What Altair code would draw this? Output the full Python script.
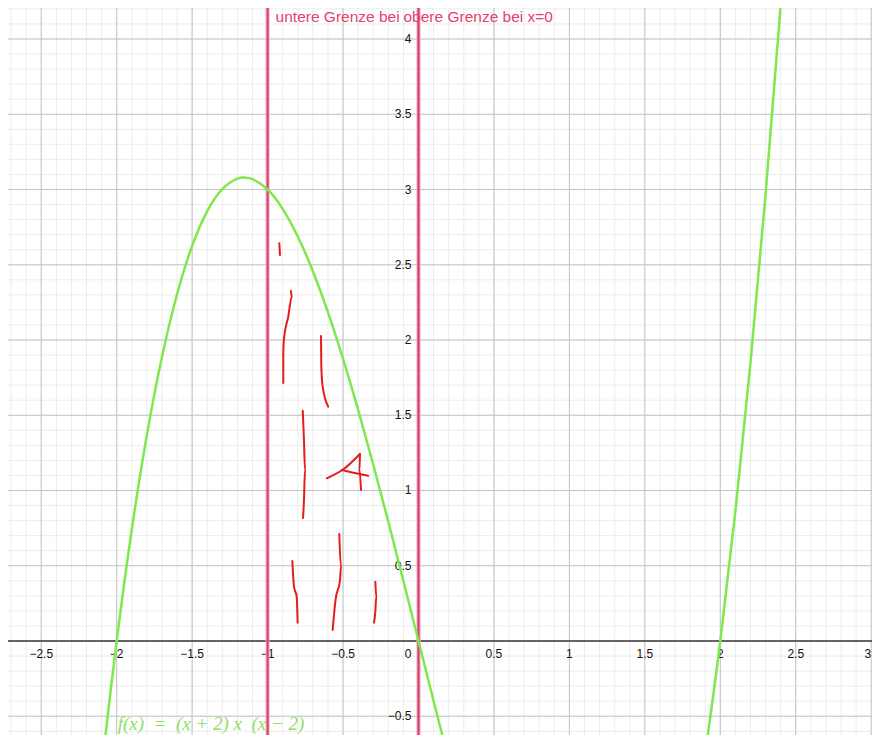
import altair as alt
import pandas as pd

# ---- data ----
# graph of f(x) = (x+2) x (x-2)
curve_x = [-2.2, -2.1, -2.0, -1.9, -1.8, -1.7, -1.6, -1.5, -1.4, -1.3, -1.2, -1.15, -1.1, -1.0,
           -0.9, -0.8, -0.7, -0.6, -0.5, -0.4, -0.3, -0.2, -0.1, 0.0, 0.1, 0.2, 0.3, 0.4, 0.5,
           0.6, 0.7, 0.8, 0.9, 1.0, 1.1, 1.15, 1.2, 1.3, 1.4, 1.5, 1.6, 1.7, 1.8, 1.9, 2.0,
           2.1, 2.2, 2.3, 2.4, 2.5]
curve_y = [-1.848, -0.861, 0.0, 0.741, 1.368, 1.887, 2.304, 2.625, 2.856, 3.003, 3.072, 3.079, 3.069, 3.0,
           2.871, 2.688, 2.457, 2.184, 1.875, 1.536, 1.173, 0.792, 0.399, 0.0, -0.399, -0.792, -1.173, -1.536, -1.875,
           -2.184, -2.457, -2.688, -2.871, -3.0, -3.069, -3.079, -3.072, -3.003, -2.856, -2.625, -2.304, -1.887, -1.368, -0.741, 0.0,
           0.861, 1.848, 2.967, 4.224, 5.625]

# red freehand strokes
stroke_id = ["s1", "s1",
             "s2", "s2", "s2", "s2", "s2", "s2",
             "s3", "s3", "s3", "s3",
             "s4", "s4", "s4", "s4", "s4",
             "a1", "a1", "a1",
             "a2", "a2", "a2",
             "a3", "a3", "a3",
             "s5", "s5", "s5", "s5",
             "s6", "s6", "s6", "s6", "s6",
             "s7", "s7", "s7", "s7"]
stroke_x = [-0.922, -0.918,
            -0.845, -0.840, -0.863, -0.891, -0.896, -0.896,
            -0.646, -0.644, -0.635, -0.598,
            -0.767, -0.759, -0.752, -0.759, -0.765,
            -0.608, -0.498, -0.388,
            -0.388, -0.391, -0.381,
            -0.509, -0.414, -0.333,
            -0.836, -0.825, -0.807, -0.801,
            -0.525, -0.514, -0.520, -0.549, -0.569,
            -0.286, -0.280, -0.286, -0.295]
stroke_y = [2.643, 2.565,
            2.326, 2.288, 2.155, 2.013, 1.914, 1.714,
            2.027, 1.823, 1.690, 1.557,
            1.530, 1.336, 1.136, 0.937, 0.817,
            1.081, 1.141, 1.243,
            1.243, 1.136, 1.003,
            1.136, 1.114, 1.098,
            0.532, 0.361, 0.294, 0.122,
            0.711, 0.494, 0.405, 0.279, 0.073,
            0.394, 0.294, 0.195, 0.122]

x_tick_vals = [-2.5, -2, -1.5, -1, -0.5, 0.5, 1, 1.5, 2, 2.5]
x_tick_text = ["−2.5", "−2", "−1.5", "−1", "−0.5", "0.5", "1", "1.5", "2", "2.5"]
x_edge_val = [3]
x_edge_text = ["3"]
y_tick_vals = [-0.5, 0.5, 1, 1.5, 2, 2.5, 3, 3.5, 4]
y_tick_text = ["−0.5", "0.5", "1", "1.5", "2", "2.5", "3", "3.5", "4"]

bound_x = [-1, 0]
label_lower = "untere Grenze bei"
label_upper = "obere Grenze bei x=0"
formula = "f(x)\u00a0\u00a0=\u00a0\u00a0(x\u00a0+\u00a02)\u00a0x\u00a0\u00a0(x\u00a0−\u00a02)"

# ---- view ----
X_DOM = [-2.7203, 3.0053]
Y_DOM = [-0.6246, 4.2060]
xs = alt.Scale(domain=X_DOM, nice=False, zero=False)
ys = alt.Scale(domain=Y_DOM, nice=False, zero=False)


def X(f):
    return alt.X(f, type="quantitative", scale=xs, axis=None)


def Y(f):
    return alt.Y(f, type="quantitative", scale=ys, axis=None)


minor_v = [round(-2.7 + 0.1 * i, 2) for i in range(58)]
minor_h = [round(-0.6 + 0.1 * i, 2) for i in range(49)]
major_v = [v for v in minor_v if abs(v * 2 - round(v * 2)) < 1e-6]
major_h = [v for v in minor_h if abs(v * 2 - round(v * 2)) < 1e-6]

minor_v_df = pd.DataFrame({"v": minor_v})
minor_h_df = pd.DataFrame({"v": minor_h})
major_v_df = pd.DataFrame({"v": major_v})
major_h_df = pd.DataFrame({"v": major_h})

layers = []
layers.append(alt.Chart(minor_v_df).mark_rule(color="#ececec", strokeWidth=1).encode(x=X("v")))
layers.append(alt.Chart(minor_h_df).mark_rule(color="#ececec", strokeWidth=1).encode(y=Y("v")))
layers.append(alt.Chart(major_v_df).mark_rule(color="#c4c4c4", strokeWidth=1).encode(x=X("v")))
layers.append(alt.Chart(major_h_df).mark_rule(color="#c4c4c4", strokeWidth=1).encode(y=Y("v")))

axis_df = pd.DataFrame({"v": [0.0]})
layers.append(alt.Chart(axis_df).mark_rule(color="#3a3a3a", strokeWidth=1.5).encode(y=Y("v")))
layers.append(alt.Chart(axis_df).mark_rule(color="#3a3a3a", strokeWidth=1.5).encode(x=X("v")))

# tick labels
xt_df = pd.DataFrame({"v": x_tick_vals, "t": x_tick_text, "z": [0.0] * len(x_tick_vals)})
layers.append(alt.Chart(xt_df).mark_text(fontSize=12, font="Liberation Sans", color="#111111",
                                          baseline="middle", align="center", dy=13)
              .encode(x=X("v"), y=Y("z"), text="t:N"))
xe_df = pd.DataFrame({"v": x_edge_val, "t": x_edge_text, "z": [0.0]})
layers.append(alt.Chart(xe_df).mark_text(fontSize=12, font="Liberation Sans", color="#111111",
                                          baseline="middle", align="right", dx=0, dy=13)
              .encode(x=X("v"), y=Y("z"), text="t:N"))
zero_df = pd.DataFrame({"v": [0.0], "t": ["0"]})
layers.append(alt.Chart(zero_df).mark_text(fontSize=12, font="Liberation Sans", color="#111111",
                                            baseline="middle", align="right", dx=-7, dy=13)
              .encode(x=X("v"), y=Y("v"), text="t:N"))
yt_df = pd.DataFrame({"v": y_tick_vals, "t": y_tick_text, "z": [0.0] * len(y_tick_vals)})
layers.append(alt.Chart(yt_df).mark_text(fontSize=12, font="Liberation Sans", color="#111111",
                                          baseline="middle", align="right", dx=-7)
              .encode(x=X("z"), y=Y("v"), text="t:N"))

# boundary lines
b_df = pd.DataFrame({"v": bound_x})
layers.append(alt.Chart(b_df).mark_rule(color="#f4b3c6", strokeWidth=5, opacity=0.6).encode(x=X("v")))
layers.append(alt.Chart(b_df).mark_rule(color="#db3f6e", strokeWidth=2.2).encode(x=X("v")))

# curve
c_df = pd.DataFrame({"x": curve_x, "y": curve_y, "o": list(range(len(curve_x)))})
layers.append(alt.Chart(c_df).mark_line(color="#7ee84c", strokeWidth=2.5, clip=True, interpolate="natural")
              .encode(x=X("x"), y=Y("y"), order="o:Q"))

# red strokes
s_df = pd.DataFrame({"x": stroke_x, "y": stroke_y, "id": stroke_id, "o": list(range(len(stroke_x)))})
layers.append(alt.Chart(s_df).mark_line(color="#e41c1c", strokeWidth=2, clip=True, interpolate="monotone",
                                         strokeCap="round", strokeJoin="round")
              .encode(x=X("x"), y=Y("y"), detail="id:N", order="o:Q"))

# boundary labels
l1_df = pd.DataFrame({"x": [-1.0], "y": [4.113], "t": [label_lower]})
layers.append(alt.Chart(l1_df).mark_text(fontSize=15.5, font="Liberation Sans", color="#e5406f",
                                          align="left", baseline="alphabetic", dx=8, clip=True)
              .encode(x=X("x"), y=Y("y"), text="t:N"))
l2_df = pd.DataFrame({"x": [0.0], "y": [4.113], "t": [label_upper]})
layers.append(alt.Chart(l2_df).mark_text(fontSize=15.5, font="Liberation Sans", color="#e5406f",
                                          align="left", baseline="alphabetic", dx=-15, clip=True)
              .encode(x=X("x"), y=Y("y"), text="t:N"))

# formula label
f_df = pd.DataFrame({"x": [-2.0], "y": [-0.593], "t": [formula]})
layers.append(alt.Chart(f_df).mark_text(fontSize=19, font="Liberation Serif", fontStyle="italic",
                                         color="#8fe063", align="left", baseline="alphabetic", dx=1, clip=True)
              .encode(x=X("x"), y=Y("y"), text="t:N"))

chart = alt.layer(*layers).properties(
    width=864, height=727, padding=0,
    autosize=alt.AutoSizeParams(type="none"),
).configure_view(strokeWidth=0)

chart.save("out.html", embed_options={"renderer": "svg", "actions": False})
